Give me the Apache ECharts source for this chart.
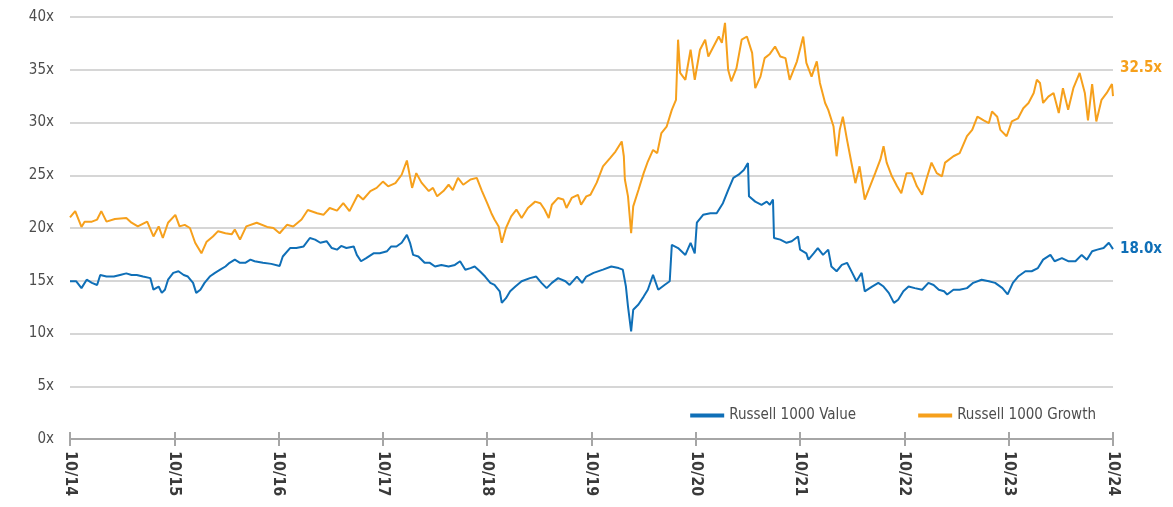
<!DOCTYPE html>
<html>
<head>
<meta charset="utf-8">
<script src="https://cdn.jsdelivr.net/npm/echarts@6/dist/echarts.min.js"></script>
<style>
  html, body { margin: 0; padding: 0; background: #fff; }
  #chart { width: 1173px; height: 507px; }
</style>
</head>
<body>
<div id="chart"></div>
<script>
const FONT = "'Liberation Sans Narrow', 'DejaVu Sans Condensed', Roboto, sans-serif";

// x = years since 10/14
const tickLabels = ['10/14', '10/15', '10/16', '10/17', '10/18', '10/19', '10/20', '10/21', '10/22', '10/23', '10/24'];

// Russell 1000 Growth, forward P/E
const growthT = [0.00, 0.05, 0.11, 0.14, 0.21, 0.26, 0.30, 0.35, 0.43, 0.54, 0.59, 0.65, 0.74, 0.80, 0.85, 0.89, 0.94,
  1.01, 1.05, 1.10, 1.15, 1.20, 1.26, 1.31, 1.37, 1.42, 1.49, 1.55, 1.58, 1.63, 1.69, 1.79, 1.89, 1.95,
  2.01, 2.08, 2.14, 2.22, 2.28, 2.37, 2.43, 2.49, 2.56, 2.62, 2.68, 2.76, 2.81, 2.88, 2.94,
  3.00, 3.05, 3.12, 3.18, 3.23, 3.28, 3.32, 3.37, 3.44, 3.48, 3.52, 3.58, 3.63, 3.67, 3.72, 3.77, 3.84, 3.90, 3.95,
  4.00, 4.04, 4.07, 4.11, 4.14, 4.18, 4.23, 4.28, 4.33, 4.39, 4.46, 4.51, 4.55, 4.59, 4.62, 4.68, 4.73, 4.76, 4.81, 4.87, 4.90, 4.95,
  4.99, 5.05, 5.11, 5.18, 5.23, 5.29, 5.31, 5.32, 5.35, 5.38, 5.40, 5.45, 5.50, 5.54, 5.59, 5.63, 5.67, 5.72, 5.77, 5.81, 5.83, 5.85, 5.90, 5.95, 5.99,
  6.04, 6.09, 6.12, 6.17, 6.22, 6.25, 6.28, 6.31, 6.34, 6.39, 6.44, 6.49, 6.54, 6.57, 6.62, 6.66, 6.71, 6.76, 6.81, 6.86, 6.90, 6.97,
  7.03, 7.06, 7.11, 7.16, 7.19, 7.24, 7.27, 7.32, 7.35, 7.38, 7.41, 7.45, 7.48, 7.53, 7.57, 7.62, 7.67, 7.72, 7.77, 7.80, 7.83, 7.88, 7.93, 7.97,
  8.02, 8.07, 8.12, 8.17, 8.21, 8.26, 8.31, 8.36, 8.39, 8.47, 8.53, 8.60, 8.65, 8.70, 8.76, 8.81, 8.84, 8.89, 8.92, 8.98,
  9.03, 9.09, 9.14, 9.19, 9.24, 9.27, 9.30, 9.33, 9.38, 9.43, 9.48, 9.52, 9.57, 9.62, 9.68, 9.73, 9.76, 9.80, 9.84, 9.89, 9.94, 9.99, 10.00];
const growthV = [21.0, 21.6, 20.1, 20.6, 20.6, 20.8, 21.6, 20.6, 20.85, 20.95, 20.5, 20.15, 20.6, 19.2, 20.15, 19.05, 20.5,
  21.25, 20.15, 20.3, 20.0, 18.6, 17.6, 18.7, 19.2, 19.7, 19.5, 19.4, 19.85, 18.9, 20.15, 20.5, 20.1, 20.0,
  19.5, 20.3, 20.15, 20.8, 21.7, 21.4, 21.25, 21.9, 21.65, 22.35, 21.6, 23.15, 22.7, 23.5, 23.8,
  24.4, 23.95, 24.25, 25.05, 26.4, 23.8, 25.2, 24.3, 23.5, 23.8, 23.0, 23.5, 24.1, 23.6, 24.75, 24.1, 24.6, 24.75, 23.5,
  22.35, 21.4, 20.8, 20.15, 18.6, 20.0, 21.1, 21.75, 20.95, 21.9, 22.5, 22.35, 21.75, 20.95, 22.2, 22.85, 22.7, 21.9, 22.85, 23.15, 22.2, 23.0,
  23.15, 24.3, 25.85, 26.65, 27.25, 28.2, 26.8, 24.6, 23.0, 19.5, 22.05, 23.6, 25.2, 26.3, 27.4, 27.1, 29.0, 29.6, 31.2, 32.15, 37.85, 34.7, 34.05, 36.9, 34.05,
  36.9, 37.85, 36.25, 37.2, 38.15, 37.55, 39.45, 35.0, 33.9, 35.15, 37.85, 38.15, 36.6, 33.25, 34.35, 36.1, 36.5, 37.2, 36.25, 36.1, 34.05, 35.8,
  38.15, 35.65, 34.35, 35.8, 33.75, 31.85, 31.2, 29.65, 26.8, 29.3, 30.55, 28.35, 26.8, 24.25, 25.85, 22.7, 23.95, 25.2, 26.5, 27.75, 26.2, 24.9, 23.95, 23.3,
  25.2, 25.2, 23.95, 23.15, 24.6, 26.2, 25.2, 24.9, 26.2, 26.8, 27.1, 28.7, 29.3, 30.55, 30.2, 29.95, 31.05, 30.55, 29.3, 28.7,
  30.1, 30.4, 31.35, 31.85, 32.8, 34.05, 33.75, 31.85, 32.45, 32.8, 30.9, 33.25, 31.2, 33.25, 34.7, 32.8, 30.2, 33.65, 30.1, 32.15, 32.8, 33.65, 32.5];

// Russell 1000 Value, forward P/E
const valueT = [0.00, 0.06, 0.11, 0.16, 0.21, 0.26, 0.29, 0.35, 0.42, 0.48, 0.54, 0.59, 0.64, 0.70, 0.77, 0.80, 0.85, 0.88, 0.91, 0.94, 0.99,
  1.04, 1.09, 1.13, 1.18, 1.21, 1.25, 1.29, 1.34, 1.39, 1.44, 1.49, 1.53, 1.58, 1.63, 1.68, 1.73, 1.77, 1.85, 1.93,
  2.01, 2.04, 2.11, 2.17, 2.24, 2.30, 2.35, 2.40, 2.46, 2.51, 2.56, 2.60, 2.65, 2.72, 2.75, 2.79, 2.84, 2.91, 2.97,
  3.04, 3.08, 3.13, 3.18, 3.23, 3.26, 3.29, 3.34, 3.40, 3.45, 3.50, 3.56, 3.63, 3.69, 3.74, 3.79, 3.84, 3.88, 3.93, 3.98,
  4.03, 4.07, 4.12, 4.14, 4.18, 4.22, 4.27, 4.33, 4.41, 4.47, 4.52, 4.57, 4.62, 4.68, 4.75, 4.79, 4.86, 4.91, 4.95,
  5.02, 5.11, 5.19, 5.26, 5.30, 5.33, 5.35, 5.38, 5.40, 5.45, 5.50, 5.54, 5.59, 5.64, 5.70, 5.75, 5.77, 5.83, 5.90, 5.95, 5.99,
  6.01, 6.07, 6.14, 6.20, 6.26, 6.31, 6.36, 6.41, 6.46, 6.50, 6.51, 6.57, 6.63, 6.68, 6.71, 6.74, 6.75, 6.81, 6.87, 6.92, 6.98,
  7.00, 7.06, 7.08, 7.13, 7.17, 7.22, 7.27, 7.30, 7.35, 7.40, 7.45, 7.50, 7.54, 7.59, 7.62, 7.69, 7.75, 7.80, 7.85, 7.90, 7.94, 7.99,
  8.04, 8.10, 8.17, 8.23, 8.28, 8.33, 8.38, 8.41, 8.47, 8.53, 8.60, 8.66, 8.74, 8.81, 8.87, 8.94, 8.99,
  9.04, 9.09, 9.16, 9.22, 9.28, 9.33, 9.40, 9.44, 9.51, 9.57, 9.64, 9.70, 9.75, 9.80, 9.85, 9.91, 9.96, 10.00];
const valueV = [14.95, 14.95, 14.3, 15.1, 14.8, 14.6, 15.55, 15.4, 15.4, 15.55, 15.7, 15.55, 15.55, 15.4, 15.25, 14.15, 14.45, 13.85, 14.15, 15.1, 15.75,
  15.9, 15.55, 15.4, 14.8, 13.85, 14.15, 14.8, 15.4, 15.75, 16.05, 16.35, 16.7, 17.0, 16.7, 16.7, 17.0, 16.85, 16.7, 16.6,
  16.4, 17.3, 18.1, 18.1, 18.25, 19.05, 18.9, 18.6, 18.75, 18.1, 17.95, 18.3, 18.1, 18.25, 17.45, 16.85, 17.15, 17.6, 17.6,
  17.8, 18.25, 18.25, 18.6, 19.35, 18.6, 17.45, 17.3, 16.7, 16.7, 16.35, 16.5, 16.35, 16.5, 16.85, 16.05, 16.2, 16.35, 15.9, 15.4,
  14.8, 14.6, 14.0, 12.9, 13.35, 14.0, 14.45, 14.95, 15.25, 15.4, 14.8, 14.3, 14.8, 15.25, 14.95, 14.6, 15.4, 14.8, 15.4,
  15.75, 16.05, 16.35, 16.2, 16.05, 14.45, 12.55, 10.2, 12.25, 12.75, 13.5, 14.15, 15.55, 14.15, 14.6, 14.95, 18.4, 18.1, 17.45, 18.6, 17.6,
  20.5, 21.25, 21.4, 21.4, 22.35, 23.6, 24.75, 25.05, 25.5, 26.15, 23.0, 22.5, 22.2, 22.5, 22.2, 22.7, 19.05, 18.9, 18.6, 18.75, 19.2,
  17.95, 17.6, 17.0, 17.6, 18.1, 17.45, 17.95, 16.35, 15.9, 16.5, 16.7, 15.75, 14.95, 15.75, 14.0, 14.45, 14.8, 14.45, 13.85, 12.9, 13.2, 14.0,
  14.45, 14.3, 14.15, 14.8, 14.6, 14.15, 14.0, 13.7, 14.15, 14.15, 14.3, 14.8, 15.1, 14.95, 14.8, 14.3, 13.7,
  14.8, 15.4, 15.9, 15.9, 16.2, 17.0, 17.45, 16.85, 17.15, 16.85, 16.85, 17.45, 17.0, 17.8, 17.95, 18.1, 18.6, 18.0];

const BLUE = '#0f6fb7';
const ORANGE = '#f6a01c';

const chart = echarts.init(document.getElementById('chart'), null, { renderer: 'canvas' });

const zip = (ts, vs) => ts.map((t, i) => [t, vs[i]]);

const option = {
  animation: false,
  backgroundColor: '#fff',
  textStyle: { fontFamily: FONT },
  grid: { left: 70, right: 60, top: 17, bottom: 68 },
  legend: {
    right: 72,
    top: 403,
    itemWidth: 34,
    itemHeight: 4,
    itemGap: 62,
    icon: 'rect',
    textStyle: { fontFamily: FONT, fontSize: 15, color: '#4d4d4d' },
    data: ['Russell 1000 Value', 'Russell 1000 Growth']
  },
  xAxis: [{
    type: 'value',
    min: 0,
    max: 10,
    interval: 1,
    axisLine: { lineStyle: { color: '#a6a6a6', width: 2 } },
    axisTick: { show: true, length: 7, lineStyle: { color: '#a6a6a6', width: 2 } },
    axisLabel: {
      rotate: -90,
      margin: 12,
      fontFamily: FONT,
      fontSize: 16,
      fontWeight: 'bold',
      color: '#3a3a3a',
      formatter: (v) => tickLabels[Math.round(v)]
    },
    splitLine: { show: false }
  }, {
    type: 'value',
    position: 'bottom',
    min: 0,
    max: 10,
    interval: 1,
    axisLine: { show: false },
    axisTick: { show: true, inside: true, length: 7, lineStyle: { color: '#a6a6a6', width: 2 } },
    axisLabel: { show: false },
    splitLine: { show: false }
  }],
  yAxis: {
    type: 'value',
    min: 0,
    max: 40,
    interval: 5,
    axisLine: { show: false },
    axisTick: { show: false },
    axisLabel: {
      margin: 16,
      fontFamily: FONT,
      fontSize: 15,
      color: '#4d4d4d',
      formatter: (v) => v + 'x'
    },
    splitLine: { lineStyle: { color: '#d6d6d6', width: 2 } }
  },
  series: [{
    name: 'Russell 1000 Value',
    type: 'line',
    data: zip(valueT, valueV),
    showSymbol: false,
    color: BLUE,
    lineStyle: { width: 2, color: BLUE },
    endLabel: {
      show: true,
      distance: 7,
      fontFamily: FONT,
      fontSize: 15,
      fontWeight: 'bold',
      color: BLUE,
      formatter: (p) => p.value[1].toFixed(1) + 'x'
    }
  }, {
    name: 'Russell 1000 Growth',
    type: 'line',
    data: zip(growthT, growthV),
    showSymbol: false,
    color: ORANGE,
    lineStyle: { width: 2, color: ORANGE },
    endLabel: {
      show: true,
      distance: 7,
      offset: [0, -28],
      fontFamily: FONT,
      fontSize: 15,
      fontWeight: 'bold',
      color: ORANGE,
      formatter: (p) => p.value[1].toFixed(1) + 'x'
    }
  }]
};

chart.setOption(option);
</script>
</body>
</html>
